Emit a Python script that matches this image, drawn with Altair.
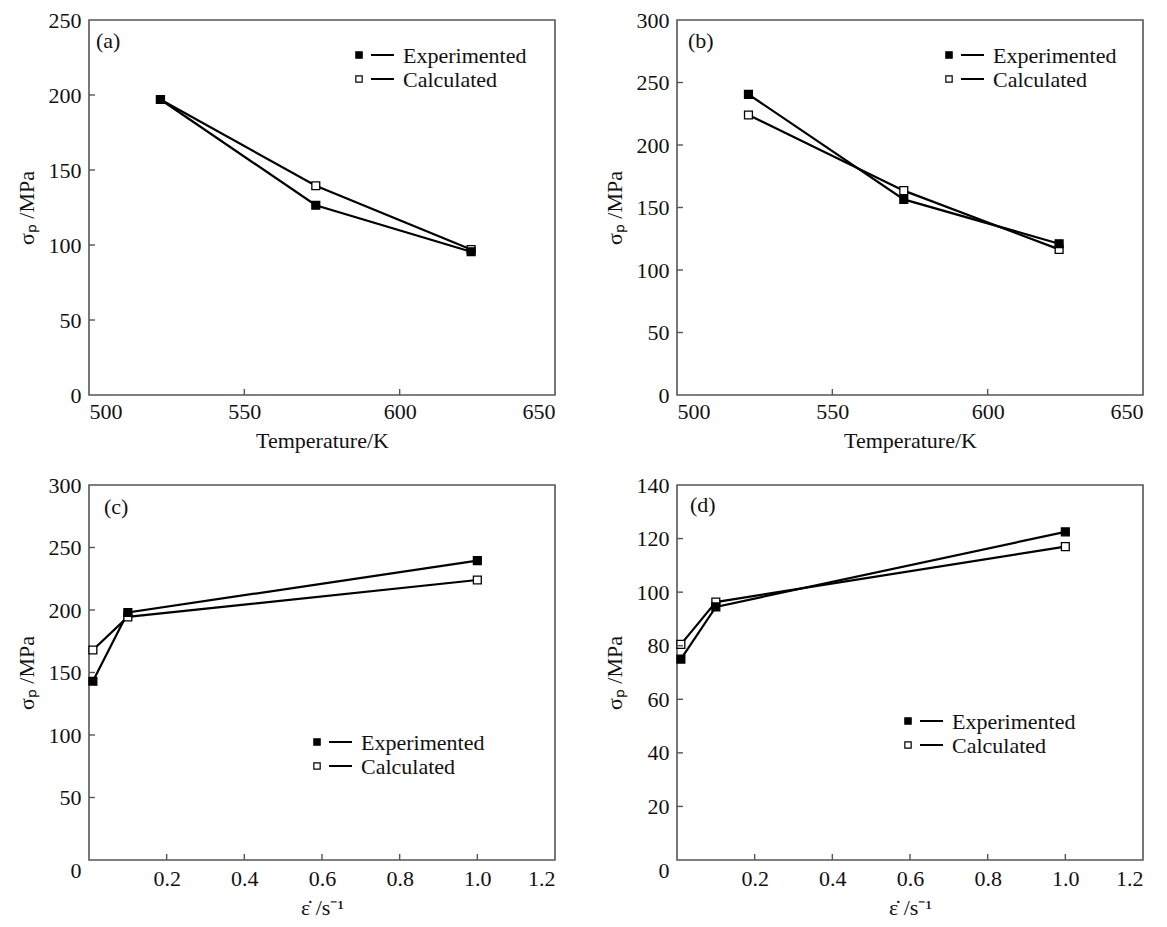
import altair as alt
import pandas as pd

# ---------------- data ----------------
temps = [523, 573, 623]
a_exp = [197, 126.5, 95.5]
a_calc = [197, 139.5, 97]
b_exp = [240.5, 156.5, 121]
b_calc = [224, 163.5, 116.5]

rates = [0.01, 0.1, 1.0]
c_exp = [143, 198, 239.5]
c_calc = [168, 194.5, 224]
d_exp = [75, 94.5, 122.5]
d_calc = [80.5, 96.3, 117]

series_names = ["Experimented", "Calculated"]
temp_ticks = [500, 550, 600, 650]
rate_ticks = [0, 0.2, 0.4, 0.6, 0.8, 1.0, 1.2]
a_yticks = [0, 50, 100, 150, 200, 250]
b_yticks = [0, 50, 100, 150, 200, 250, 300]
c_yticks = [0, 50, 100, 150, 200, 250, 300]
d_yticks = [0, 20, 40, 60, 80, 100, 120, 140]

W, H = 466, 375
FONT = "Times New Roman, Liberation Serif, Times, serif"
FS = 22
YTITLE = "σₚ /MPa"
TTITLE = "Temperature/K"
RTITLE = "ε̇ /s⁻¹"


def panel(xs, exp, calc, xticks, yticks, xtitle, label, lab_dx, lab_dy,
          leg_dx, leg_dy, rate_axis):
    df = pd.DataFrame({
        "x": list(xs) + list(xs),
        "y": list(exp) + list(calc),
        "series": [series_names[0]] * len(xs) + [series_names[1]] * len(xs),
    })
    xscale = alt.Scale(domain=[xticks[0], xticks[-1]], nice=False, zero=False)
    yscale = alt.Scale(domain=[yticks[0], yticks[-1]], nice=False)
    common = dict(ticks=False, domain=False, grid=False,
                  labelFont=FONT, titleFont=FONT, labelFontSize=FS, titleFontSize=FS,
                  labelColor="#111", titleColor="#111", titleFontWeight="normal")
    if rate_axis:
        xaxis = alt.Axis(values=xticks, title=xtitle,
                         labelExpr="datum.value == 0 ? '' : format(datum.value, '.1f')",
                         labelPadding=8, titlePadding=8, **common)
        yaxis = alt.Axis(values=yticks, title=YTITLE, labelPadding=8, titlePadding=10,
                         labelBaseline={"condition": {"test": "datum.value == 0", "value": "top"},
                                        "value": "middle"}, **common)
    else:
        xaxis = alt.Axis(values=xticks, title=xtitle, labelPadding=6, titlePadding=8,
                         **common)
        yaxis = alt.Axis(values=yticks, title=YTITLE, labelPadding=8, titlePadding=10,
                         **common)

    X = alt.X("x:Q", scale=xscale, axis=xaxis)
    Y = alt.Y("y:Q", scale=yscale, axis=yaxis)
    base = alt.Chart(df)
    lines = base.mark_line(color="black", strokeWidth=2.2).encode(
        x=X, y=Y, detail="series:N")
    pts = base.mark_point(shape="square", size=62, filled=True, stroke="black",
                          strokeWidth=1.3, opacity=1).encode(
        x=X, y=Y,
        fill=alt.Fill("series:N", scale=alt.Scale(domain=series_names,
                                                  range=["black", "white"]),
                      legend=None),
        order=alt.Order("series:N", sort="ascending"))

    # inward ticks
    xt = pd.DataFrame({"v": xticks[1:-1]})
    yt = pd.DataFrame({"v": yticks[1:-1]})
    xtick = alt.Chart(xt).mark_rule(color="#555", strokeWidth=1.4).encode(
        x=alt.X("v:Q", scale=xscale), y=alt.value(H), y2=alt.value(H - 6))
    ytick = alt.Chart(yt).mark_rule(color="#555", strokeWidth=1.4).encode(
        y=alt.Y("v:Q", scale=yscale), x=alt.value(0), x2=alt.value(6))

    # panel label
    lab = alt.Chart(pd.DataFrame({"t": [label]})).mark_text(
        font=FONT, fontSize=FS, align="left", baseline="middle", color="#111"
    ).encode(text="t:N", x=alt.value(lab_dx), y=alt.value(lab_dy))

    # manual legend
    leg_layers = []
    for i, name in enumerate(series_names):
        ly = leg_dy + i * 24
        one = alt.Chart(pd.DataFrame({"s": [name]}))
        leg_layers.append(one.mark_point(
            shape="square", size=40, filled=True, stroke="black", strokeWidth=1.2,
            opacity=1, fill="black" if i == 0 else "white"
        ).encode(x=alt.value(leg_dx), y=alt.value(ly)))
        leg_layers.append(one.mark_rule(color="black", strokeWidth=2).encode(
            x=alt.value(leg_dx + 12), x2=alt.value(leg_dx + 35), y=alt.value(ly)))
        leg_layers.append(one.mark_text(
            font=FONT, fontSize=FS, align="left", baseline="middle", color="#111"
        ).encode(text="s:N", x=alt.value(leg_dx + 44), y=alt.value(ly + 1)))

    return alt.layer(lines, pts, xtick, ytick, lab, *leg_layers).properties(
        width=W, height=H)


pa = panel(temps, a_exp, a_calc, temp_ticks, a_yticks, TTITLE, "(a)", 7, 21, 270, 35, False)
pb = panel(temps, b_exp, b_calc, temp_ticks, b_yticks, TTITLE, "(b)", 11, 21, 272, 35, False)
pc = panel(rates, c_exp, c_calc, rate_ticks, c_yticks, RTITLE, "(c)", 15, 22, 228, 257, True)
pd_ = panel(rates, d_exp, d_calc, rate_ticks, d_yticks, RTITLE, "(d)", 13, 20, 231, 236, True)

chart = alt.vconcat(
    alt.hconcat(pa, pb, spacing=46),
    alt.hconcat(pc, pd_, spacing=46),
    spacing=21,
).properties(
    padding={"left": 6, "top": 0, "right": 4, "bottom": 0}
).configure(
    font=FONT
).configure_view(
    stroke="#555", strokeWidth=1.6
).configure_axis(
    labelFont=FONT, labelFontSize=FS, labelColor="#111",
    titleFont=FONT, titleFontSize=FS, titleFontWeight="normal", titleColor="#111",
    grid=False
)

chart.save("out.html", embed_options={"renderer": "svg", "actions": False})
